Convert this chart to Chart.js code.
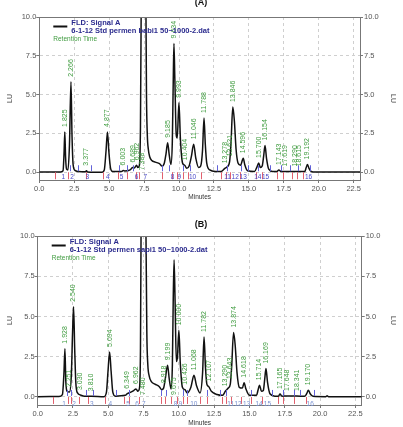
<!DOCTYPE html>
<html>
<head>
<meta charset="utf-8">
<script src="https://cdn.jsdelivr.net/npm/chart.js@4.4.1/dist/chart.umd.min.js"></script>
<style>
  body { margin: 0; background: #fff; }
  .panel { position: absolute; left: 0; width: 403px; }
</style>
</head>
<body>
<div class="panel" style="top:0;height:212px"><canvas id="chA" width="403" height="212"></canvas></div>
<div class="panel" style="top:212px;height:215px"><canvas id="chB" width="403" height="215"></canvas></div>
<script>
// ---- (A) babi trace (minutes / LU)
const timeA = [0, 1.5, 1.7, 1.77, 1.825, 1.88, 1.95, 2.05, 2.16, 2.266, 2.34, 2.42, 2.55, 2.8, 3.3, 3.377, 3.45,
  4.5, 4.65, 4.77, 4.877, 4.98, 5.1, 5.25, 5.9, 6.003, 6.1, 6.5, 6.689, 6.8, 6.962, 7.05, 7.15, 7.24, 7.3, 7.45, 7.55,
  7.62, 7.67, 7.73, 7.8, 7.9, 8.05, 8.3, 8.6, 8.78, 8.95, 9.07, 9.185, 9.3, 9.42, 9.52, 9.58, 9.634, 9.7, 9.8, 9.87,
  9.993, 10.1, 10.25, 10.404, 10.55, 10.72, 10.88, 11.046, 11.2, 11.4, 11.55, 11.68, 11.788, 11.88, 11.98, 12.2, 12.6,
  13.0, 13.278, 13.45, 13.621, 13.72, 13.846, 13.96, 14.08, 14.22, 14.4, 14.596, 14.7, 14.9, 15.4, 15.58, 15.7, 15.82,
  15.95, 16.05, 16.154, 16.26, 16.42, 16.7, 17.0, 17.143, 17.3, 17.619, 18.29, 18.615, 19.0, 19.1, 19.192, 19.3,
  19.45, 19.6, 22.95];
const luA = [0.02, 0.02, 0.1, 1.2, 2.6, 1.0, 0.2, 0.15, 1.8, 5.83, 2.4, 0.5, 0.12, 0.05, 0.03, 0.1, 0.02,
  0.0, 0.15, 1.3, 2.6, 1.3, 0.25, 0.05, 0.05, 0.12, 0.08, 0.15, 0.3, 0.28, 0.45, 0.3, 0.4, 3, 12, 30, 25,
  12, 5, 2.4, 1.5, 1.0, 0.75, 0.65, 0.55, 0.4, 0.6, 1.2, 1.9, 1.1, 0.5, 2.0, 5.5, 8.3, 6.0, 2.4, 2.2,
  4.47, 2.1, 0.6, 0.45, 0.25, 0.4, 1.0, 1.8, 0.9, 0.3, 0.4, 1.4, 3.5, 1.8, 0.6, 0.15, 0.05,
  0.05, 0.25, 0.35, 0.7, 1.9, 4.2, 3.3, 1.5, 0.6, 0.45, 0.9, 0.5, 0.1, 0.05, 0.35, 0.6, 0.3,
  0.4, 1.0, 1.72, 0.9, 0.2, 0.05, 0.05, 0.15, 0.05, 0.05, 0.04, 0.05, 0.05, 0.3, 0.5, 0.25,
  0.05, 0.02, 0.02];
const rtA = [1.825, 2.266, 3.377, 4.877, 6.003, 6.689, 6.962, 7.388, 9.185, 9.634, 9.993, 10.404, 11.046, 11.788,
  13.278, 13.621, 13.846, 14.596, 15.700, 16.154, 17.143, 17.619, 18.290, 18.615, 19.192];
const topA = [2.6, 5.83, 0.1, 2.6, 0.12, 0.3, 0.45, 0, 1.9, 8.3, 4.47, 0.45, 1.8, 3.5,
  0.25, 0.7, 4.2, 0.9, 0.6, 1.72, 0.15, 0.05, 0.04, 0.05, 0.5];
const startA = [1.12, 2.08, 3.34, 4.58, 5.65, 6.3, 6.92, 7.15, 8.75, 9.47, 9.83, 10.26, 10.64, 11.57, 13.0, 13.36,
  13.64, 14.36, 15.5, 15.93, 16.98, 17.41, 18.05, 18.41, 18.89];
const endA = [2.2, 2.76, 3.71, 5.73, 6.25, 6.73, 8.75, 9.3, 10.26, 10.78, 12.73, 13.45, 14.43, 14.95, 15.62, 16.5,
  17.33, 17.93, 18.48, 19.4];
const peakNoA = [1.72, 2.34, 3.43, 4.91, 5.89, 6.96, 7.58, 9.54, 10.02, 10.97, 13.47, 14.02, 14.59, 15.64, 16.19, 19.27];

// ---- (B) sapi trace
const timeB = [0, 1.5, 1.75, 1.86, 1.928, 1.99, 2.08, 2.251, 2.38, 2.47, 2.54, 2.62, 2.7, 2.82, 3.03, 3.3, 3.81,
  4.7, 4.87, 4.98, 5.094, 5.2, 5.32, 5.5, 6.2, 6.349, 6.6, 6.8, 6.962, 7.1, 7.2, 7.28, 7.33, 7.5, 7.6, 7.67, 7.73,
  7.8, 7.9, 8.05, 8.3, 8.6, 8.78, 8.918, 9.05, 9.199, 9.32, 9.45, 9.54, 9.6, 9.66, 9.73, 9.82, 9.9, 10.0, 10.1,
  10.25, 10.426, 10.6, 10.85, 11.068, 11.25, 11.5, 11.68, 11.782, 11.88, 11.98, 12.107, 12.3, 12.7, 13.1, 13.29,
  13.5, 13.643, 13.74, 13.874, 13.99, 14.12, 14.28, 14.5, 14.618, 14.75, 15.0, 15.5, 15.6, 15.714, 15.85, 15.98,
  16.08, 16.169, 16.28, 16.45, 16.8, 17.05, 17.165, 17.3, 17.648, 18.341, 18.9, 19.05, 19.17, 19.3, 19.5, 20.4,
  20.5, 20.6, 22.95];
const luB = [0.02, 0.03, 0.15, 1.5, 3.0, 1.0, 0.35, 0.3, 1.3, 4.0, 5.6, 3.0, 0.9, 0.25, 0.12, 0.05, 0.05,
  0.02, 0.3, 1.6, 2.8, 1.6, 0.3, 0.05, 0.1, 0.2, 0.3, 0.4, 0.5, 0.35, 0.5, 3, 12, 30, 22, 10, 4,
  2.0, 1.3, 0.95, 0.8, 0.65, 0.45, 0.55, 1.2, 1.97, 1.1, 0.5, 2.0, 6.0, 8.53, 6.0, 2.2, 2.5, 4.14, 2.1,
  0.6, 0.45, 0.25, 0.6, 1.35, 0.7, 0.25, 1.5, 3.73, 1.9, 0.8, 0.65, 0.35, 0.15, 0.1, 0.35,
  0.55, 0.8, 1.9, 4.0, 3.2, 1.5, 0.6, 0.55, 0.89, 0.5, 0.1, 0.1, 0.4, 0.73, 0.35, 0.4,
  1.1, 1.76, 0.9, 0.2, 0.05, 0.05, 0.18, 0.05, 0.06, 0.06, 0.04, 0.2, 0.42, 0.2, 0.04, 0.02,
  0.07, 0.02, 0.02];
const rtB = [1.928, 2.251, 2.540, 3.030, 3.810, 5.094, 6.349, 6.962, 7.480, 8.918, 9.199, 9.675, 10.000, 10.426,
  11.068, 11.782, 12.107, 13.290, 13.643, 13.874, 14.618, 15.714, 16.169, 17.165, 17.648, 18.341, 19.170];
const topB = [3.0, 0.3, 5.6, 0.12, 0.05, 2.8, 0.2, 0.5, 0, 0.55, 1.97, 0, 4.14, 0.45,
  1.35, 3.73, 0.65, 0.35, 0.8, 4.0, 0.89, 0.73, 1.76, 0.18, 0.06, 0.06, 0.42];
const startB = [1.06, 2.13, 2.37, 2.94, 3.53, 4.78, 6.13, 6.49, 7.15, 8.74, 9.0, 9.47, 9.88, 10.3, 10.59, 11.49,
  12.01, 13.08, 13.36, 13.67, 14.43, 15.14, 15.92, 16.99, 17.41, 18.17, 19.0];
const endB = [2.06, 2.34, 3.43, 3.95, 5.57, 6.44, 8.74, 9.1, 10.3, 10.59, 12.01, 12.91, 13.36, 15.14, 16.63, 17.41,
  18.12, 18.57, 19.54];
const peakNoB = [1.87, 2.58, 3.84, 5.14, 6.4, 7.04, 7.51, 9.76, 10.11, 11.06, 13.67, 14.19, 14.8, 15.68, 16.27, 19.3];

const FONT = '"Liberation Sans", Arial, sans-serif';
Chart.defaults.font.family = FONT;
Chart.defaults.color = '#555';

function marks(p) {
  return {
    id: 'marks',
    afterDatasetsDraw(chart) {
      const ctx = chart.ctx, xs = chart.scales.x, ys = chart.scales.y, a = chart.chartArea;
      const X = t => Math.round(xs.getPixelForValue(t)) + 0.5;
      const y0 = ys.getPixelForValue(0);
      ctx.save();
      // frame top
      ctx.strokeStyle = '#777'; ctx.lineWidth = 1;
      ctx.beginPath(); ctx.moveTo(a.left, a.top + 0.5); ctx.lineTo(a.right, a.top + 0.5); ctx.stroke();
      // baseline start/stop ticks
      ctx.strokeStyle = '#e2606e';
      p.starts.forEach(t => { ctx.beginPath(); ctx.moveTo(X(t), y0); ctx.lineTo(X(t), y0 + 7); ctx.stroke(); });
      ctx.strokeStyle = '#6262d8';
      p.ends.forEach(t => { ctx.beginPath(); ctx.moveTo(X(t), y0 - 1); ctx.lineTo(X(t), y0 - 7); ctx.stroke(); });
      // peak numbers
      ctx.fillStyle = p.numColor; ctx.font = '6.5px ' + FONT;
      ctx.textAlign = 'center'; ctx.textBaseline = 'middle';
      p.nums.forEach((t, i) => ctx.fillText(String(i + 1), xs.getPixelForValue(t), y0 + p.numDy));
      // retention time labels
      ctx.fillStyle = '#3f9b3f'; ctx.font = '7px ' + FONT; ctx.textAlign = 'left';
      p.rt.forEach((t, i) => {
        const h = p.top[i];
        const yy = h > 0 ? ys.getPixelForValue(h) - 5 : y0 - 2;
        ctx.save();
        ctx.translate(xs.getPixelForValue(t), yy);
        ctx.rotate(-Math.PI / 2);
        ctx.fillText(t.toFixed(3), 0, 0);
        ctx.restore();
      });
      // legend
      ctx.strokeStyle = '#111'; ctx.lineWidth = 2;
      ctx.beginPath(); ctx.moveTo(a.left + 14, a.top + 9.5); ctx.lineTo(a.left + 28, a.top + 9.5); ctx.stroke();
      ctx.fillStyle = '#2b2b8e'; ctx.font = 'bold 7.5px ' + FONT;
      ctx.fillText('FLD: Signal A', a.left + 32, a.top + 5.5);
      ctx.fillText(p.file, a.left + 32, a.top + 14);
      ctx.fillStyle = '#3f9b3f'; ctx.font = '6.5px ' + FONT;
      ctx.fillText('Retention Time', a.left + 14, a.top + 22);
      // panel title
      ctx.fillStyle = '#111'; ctx.font = 'bold 9px ' + FONT; ctx.textAlign = 'center';
      ctx.fillText(p.title, 201, p.titleY);
      ctx.restore();
    }
  };
}

function yAxis(pos, w) {
  return {
    type: 'linear', position: pos, min: -0.5, max: 10,
    afterFit: s => { s.width = w; },
    ticks: { stepSize: 2.5, includeBounds: false, callback: v => v.toFixed(1), font: { size: 7.5 }, color: '#555', padding: pos === 'left' ? 0 : 1 },
    grid: { display: true, drawOnChartArea: pos === 'left', color: '#cfcfcf', tickLength: 3, tickColor: '#777' },
    border: { color: '#777', dash: [3, 3] },
    title: { display: true, text: 'LU', font: { size: 7 }, color: '#444', padding: { top: 6, bottom: 0 } }
  };
}

function makeChart(id, trace, lay, p) {
  const ctx = document.getElementById(id).getContext('2d');
  return new Chart(ctx, {
    type: 'line',
    data: {
      datasets: [{
        label: 'FLD: Signal A',
        data: trace.t.map((t, i) => ({ x: t, y: trace.v[i] })),
        borderColor: '#111',
        borderWidth: 1.5,
        pointRadius: 0,
        cubicInterpolationMode: 'monotone',
        yAxisID: 'y'
      }]
    },
    options: {
      responsive: false,
      animation: false,
      layout: { padding: { top: lay.top, left: 0, right: 0, bottom: 0 } },
      plugins: { legend: { display: false }, tooltip: { enabled: false } },
      scales: {
        x: {
          type: 'linear', min: 0, max: 22.95,
          afterFit: s => { s.height = lay.xh; },
          ticks: { stepSize: 2.5, includeBounds: false, callback: v => v.toFixed(1), font: { size: 7.5 }, color: '#555', padding: 1, maxRotation: 0 },
          grid: { color: '#cfcfcf', tickLength: 3, tickColor: '#777' },
          border: { color: '#777', dash: [3, 3] },
          title: { display: true, text: 'Minutes', font: { size: 6.5 }, color: '#333', padding: { top: 0, bottom: lay.titlePad } }
        },
        y: yAxis('left', lay.left),
        y2: yAxis('right', lay.right)
      }
    },
    plugins: [marks(p)]
  });
}

makeChart('chA', { t: timeA, v: luA }, { top: 17, xh: 32, left: 39.3, right: 43, titlePad: 11 },
  { rt: rtA, top: topA, starts: startA, ends: endA, nums: peakNoA, numColor: '#4848c8', numDy: 5,
    file: '6-1-12 Std permen babi1 50~1000-2.dat', title: '(A)', titleY: 3 });
makeChart('chB', { t: timeB, v: luB }, { top: 24, xh: 22, left: 37.7, right: 41.3, titlePad: 0 },
  { rt: rtB, top: topB, starts: startB, ends: endB, nums: peakNoB, numColor: '#7890d0', numDy: 7,
    file: '6-1-12 Std permen sapi1 50~1000-2.dat', title: '(B)', titleY: 13 });
</script>
</body>
</html>
